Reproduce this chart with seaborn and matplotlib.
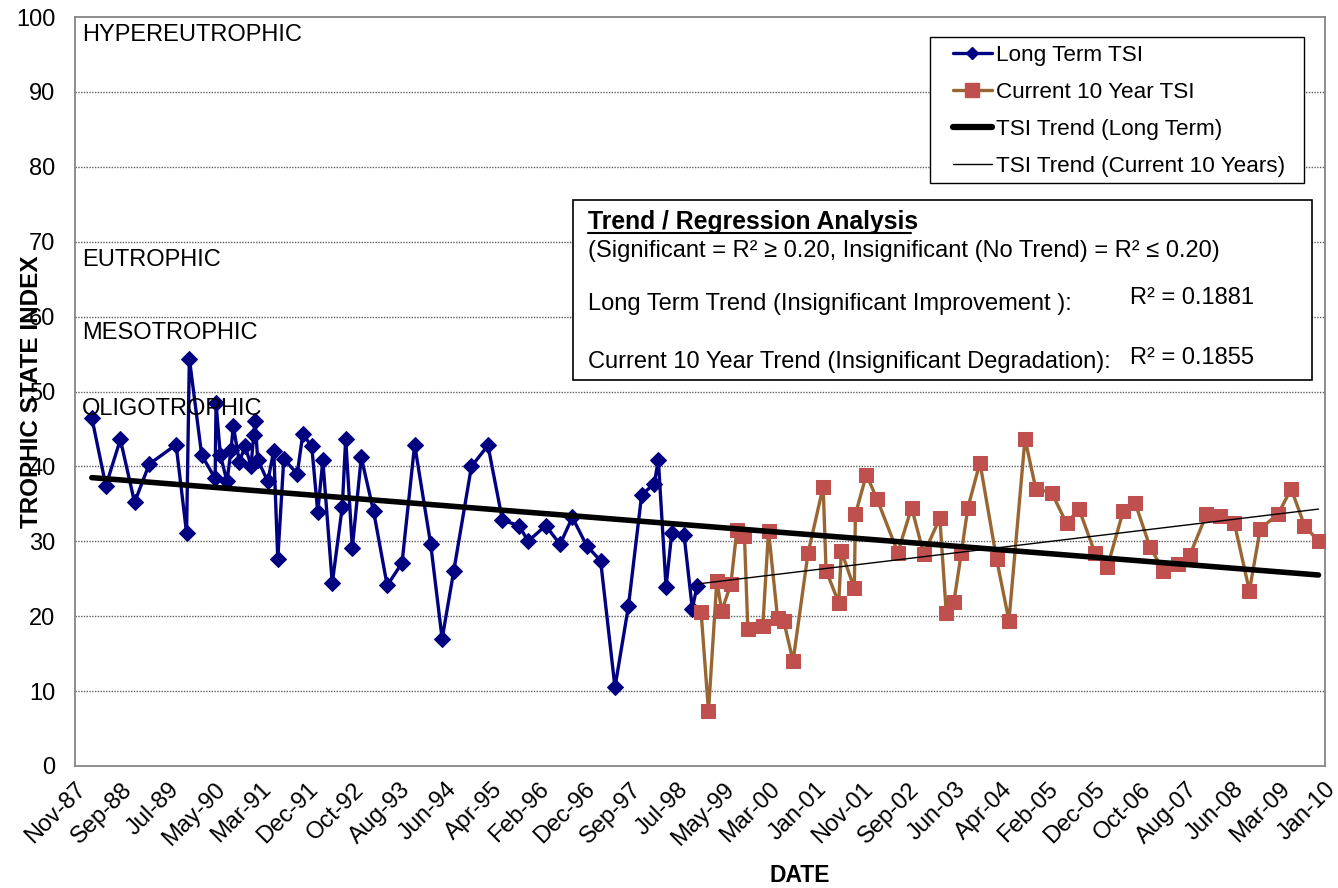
import matplotlib
matplotlib.use("Agg")
import matplotlib.pyplot as plt
import matplotlib.dates as mdates
from matplotlib.lines import Line2D
from matplotlib.patches import Rectangle
import seaborn as sns
import pandas as pd

# ---------------- data ----------------
long_dates = [
    "1988-03-08", "1988-06-07", "1988-09-09", "1988-12-10", "1989-03-15", "1989-09-05",
    "1989-11-12", "1989-11-30", "1990-02-18", "1990-05-16", "1990-05-22", "1990-06-19",
    "1990-08-01", "1990-08-27", "1990-09-11", "1990-10-20", "1990-11-26", "1991-01-04",
    "1991-01-21", "1991-01-30", "1991-02-16", "1991-04-22", "1991-05-31", "1991-06-26",
    "1991-08-04", "1991-10-30", "1991-12-05", "1992-02-01", "1992-03-11", "1992-04-13",
    "1992-06-13", "1992-08-17", "1992-09-08", "1992-10-21", "1992-12-18", "1993-03-08",
    "1993-06-04", "1993-09-08", "1993-11-29", "1994-03-13", "1994-05-26", "1994-08-09",
    "1994-12-02", "1995-03-19", "1995-06-21", "1995-10-07", "1995-12-04", "1996-03-27",
    "1996-06-28", "1996-09-16", "1996-12-18", "1997-03-18", "1997-06-19", "1997-09-14",
    "1997-12-09", "1998-03-01", "1998-03-27", "1998-05-16", "1998-06-22", "1998-09-10",
    "1998-11-02", "1998-12-03",
]
long_tsi = [
    46.5, 37.4, 43.6, 35.2, 40.3, 42.9, 31.1, 54.4, 41.5, 38.4, 48.4, 41.5,
    38.0, 42.2, 45.4, 40.6, 42.7, 40.1, 44.2, 46.1, 40.9, 38.0, 42.1, 27.6,
    41.0, 39.0, 44.3, 42.7, 33.9, 40.8, 24.4, 34.6, 43.7, 29.1, 41.2, 34.0,
    24.1, 27.1, 42.9, 29.6, 17.0, 26.0, 40.0, 42.8, 32.8, 32.1, 30.0, 32.1,
    29.6, 33.2, 29.4, 27.4, 10.5, 21.3, 36.2, 37.7, 40.9, 23.9, 31.1, 30.8,
    21.0, 24.0,
]
recent_dates = [
    "1998-12-29", "1999-02-15", "1999-04-10", "1999-05-12", "1999-07-10", "1999-08-18",
    "1999-10-06", "1999-10-28", "2000-02-02", "2000-03-10", "2000-05-08", "2000-06-16",
    "2000-08-16", "2000-11-21", "2001-02-27", "2001-03-18", "2001-06-08", "2001-06-25",
    "2001-09-17", "2001-09-24", "2001-12-04", "2002-02-12", "2002-06-26", "2002-09-23",
    "2002-12-11", "2003-03-25", "2003-05-06", "2003-06-24", "2003-08-11", "2003-09-23",
    "2003-12-10", "2004-03-27", "2004-06-15", "2004-09-27", "2004-12-06", "2005-03-19",
    "2005-06-23", "2005-09-12", "2005-12-25", "2006-03-15", "2006-06-25", "2006-09-11",
    "2006-12-15", "2007-03-11", "2007-06-13", "2007-09-01", "2007-12-17", "2008-03-16",
    "2008-06-15", "2008-09-20", "2008-11-30", "2009-03-24", "2009-06-18", "2009-09-12",
    "2009-12-12",
]
recent_tsi = [
    20.6, 7.3, 24.7, 20.7, 24.3, 31.5, 30.7, 18.3, 18.7, 31.4, 19.7, 19.4,
    14.0, 28.4, 37.3, 26.1, 21.8, 28.7, 23.7, 33.6, 38.9, 35.6, 28.5, 34.5,
    28.3, 33.1, 20.4, 21.9, 28.4, 34.5, 40.5, 27.6, 19.4, 43.7, 37.0, 36.5,
    32.4, 34.3, 28.4, 26.6, 34.0, 35.1, 29.3, 26.1, 27.0, 28.2, 33.6, 33.4,
    32.4, 23.4, 31.7, 33.6, 37.0, 32.1, 30.0,
]
trend_long_dates = ["1988-03-08", "2009-12-12"]
trend_long_vals = [38.5, 25.5]
trend_recent_dates = ["1998-12-03", "2009-12-12"]
trend_recent_vals = [24.3, 34.3]

trophic_labels = ["HYPEREUTROPHIC", "EUTROPHIC", "MESOTROPHIC", "OLIGOTROPHIC"]
trophic_label_y = [97.6, 67.5, 57.8, 47.7]

legend_labels = ["Long Term TSI", "Current 10 Year TSI", "TSI Trend (Long Term)",
                 "TSI Trend (Current 10 Years)"]
axis_start = "1987-11-20"
tick_step_days = 300
n_ticks = 28

# ---------------- style ----------------
sns.set_style("white")
plt.rcParams["font.family"] = ["Liberation Sans", "DejaVu Sans"]
for k in ["text.color", "axes.labelcolor", "xtick.color", "ytick.color"]:
    plt.rcParams[k] = "black"

W, H = 1338, 888
fig = plt.figure(figsize=(W / 100, H / 100), dpi=100)
ax = fig.add_axes([75 / W, 1 - 766 / H, 1250 / W, 749 / H])

NAVY = "#000080"
BROWN = "#996633"
RED = "#C0504D"
GRAY = "#868686"

df_long = pd.DataFrame({"date": pd.to_datetime(long_dates), "tsi": long_tsi})
df_recent = pd.DataFrame({"date": pd.to_datetime(recent_dates), "tsi": recent_tsi})
df_tl = pd.DataFrame({"date": pd.to_datetime(trend_long_dates), "tsi": trend_long_vals})
df_tr = pd.DataFrame({"date": pd.to_datetime(trend_recent_dates), "tsi": trend_recent_vals})

sns.lineplot(data=df_long, x="date", y="tsi", ax=ax, color=NAVY, lw=2.4, sort=False,
             estimator=None, marker="D", markersize=8, markeredgecolor=NAVY,
             markerfacecolor=NAVY, zorder=3)
sns.lineplot(data=df_recent, x="date", y="tsi", ax=ax, color=BROWN, lw=2.4, sort=False,
             estimator=None, marker="s", markersize=10, markeredgecolor=RED,
             markerfacecolor=RED, zorder=4)
sns.lineplot(data=df_tl, x="date", y="tsi", ax=ax, color="black", lw=4, sort=False,
             estimator=None, zorder=5, solid_capstyle="round")
sns.lineplot(data=df_tr, x="date", y="tsi", ax=ax, color="black", lw=1, sort=False,
             estimator=None, zorder=5)

# axes
start = pd.Timestamp(axis_start)
ticks = [start + pd.Timedelta(days=tick_step_days * k) for k in range(n_ticks)]
ax.set_xlim(ticks[0], ticks[-1])
ax.set_ylim(0, 100)
ax.set_xticks(ticks)
ax.xaxis.set_major_formatter(mdates.DateFormatter("%b-%y"))
ax.set_yticks(range(0, 101, 10))
for yv in range(10, 100, 10):
    ax.axhline(yv, color="#606060", lw=1, ls=(0, (1, 1)), zorder=1)
for s in ax.spines.values():
    s.set_color(GRAY)
    s.set_linewidth(1.3)
    s.set_visible(True)
ax.tick_params(axis="both", direction="out", length=6, width=1, color=GRAY,
               labelsize=17)
ax.tick_params(axis="y", pad=8)
ax.tick_params(axis="x", pad=3)
plt.setp(ax.get_xticklabels(), rotation=45, ha="right", rotation_mode="anchor")
ax.set_xlabel("DATE", fontsize=16.5, fontweight="bold")
ax.xaxis.set_label_coords((800 - 75) / 1250, -(864 - 766) / 749)
ax.set_ylabel("TROPHIC STATE INDEX", fontsize=17.5, fontweight="bold", labelpad=-19)

for lab, yv in zip(trophic_labels, trophic_label_y):
    ax.text(0.0056, yv, lab, transform=ax.get_yaxis_transform(), fontsize=17,
            va="center", ha="left", zorder=6)

# legend with a manually drawn frame
def fx(x):
    return x / W

def fy(y):
    return 1 - y / H

fig.add_artist(Rectangle((fx(930), fy(183)), fx(1304) - fx(930), fy(37) - fy(183),
                         transform=fig.transFigure, facecolor="white",
                         edgecolor="black", lw=1, zorder=9))
handles = [
    Line2D([], [], color=NAVY, lw=2.4, marker="D", markersize=6.5, markerfacecolor=NAVY),
    Line2D([], [], color=BROWN, lw=2.4, marker="s", markersize=10,
           markerfacecolor=RED, markeredgecolor=RED),
    Line2D([], [], color="black", lw=4.5),
    Line2D([], [], color="black", lw=1),
]
leg = fig.legend(handles, legend_labels, loc="upper left",
                 bbox_to_anchor=(fx(948), fy(40)), bbox_transform=fig.transFigure,
                 fontsize=16.2, frameon=False,
                 handlelength=1.75, handletextpad=0.2, labelspacing=0.72,
                 borderpad=0.2, borderaxespad=0)
leg.set_zorder(10)

# regression box
box = Rectangle((fx(573), fy(380)), fx(1312) - fx(573), fy(200) - fy(380),
                transform=fig.transFigure, facecolor="white", edgecolor="black",
                lw=1.2, zorder=8)
fig.add_artist(box)
fs = 17
fig.text(fx(588), fy(222), "Trend / Regression Analysis", fontsize=17.8, fontweight="bold",
         va="center", ha="left", zorder=9)
fig.add_artist(Line2D([fx(588), fx(911)], [fy(233), fy(233)], color="black", lw=1.5,
                      transform=fig.transFigure, zorder=9))
fig.text(fx(588), fy(251),
         "(Significant = R² ≥ 0.20, Insignificant (No Trend) = R² ≤ 0.20)",
         fontsize=fs, va="center", ha="left", zorder=9)
fig.text(fx(588), fy(304), "Long Term Trend (Insignificant Improvement ):",
         fontsize=fs, va="center", ha="left", zorder=9)
fig.text(fx(1130), fy(298), "R² = 0.1881", fontsize=fs, va="center", ha="left", zorder=9)
fig.text(fx(588), fy(362), "Current 10 Year Trend (Insignificant Degradation):",
         fontsize=fs, va="center", ha="left", zorder=9)
fig.text(fx(1130), fy(358), "R² = 0.1855", fontsize=fs, va="center", ha="left", zorder=9)

fig.savefig("out.png", dpi=100, facecolor="white")
